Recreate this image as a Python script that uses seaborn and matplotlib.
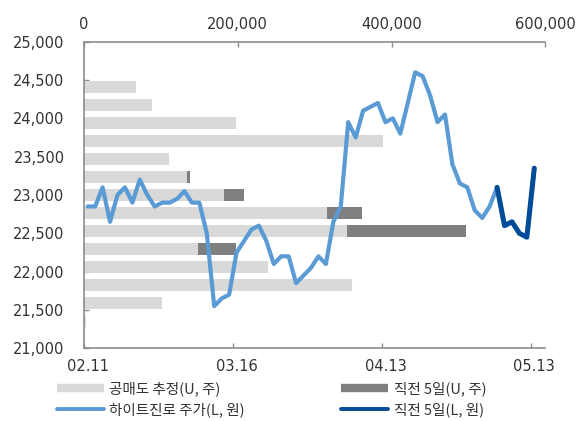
import numpy as np
import pandas as pd
import seaborn as sns
import matplotlib.pyplot as plt
from matplotlib.lines import Line2D
from matplotlib.ticker import FuncFormatter

# daily close (KRW), 61 trading days, last 6 points = "직전 5일"
price = [22850, 22850, 23100, 22650, 23000, 23100, 22900, 23200, 23000, 22850,
         22900, 22900, 22950, 23050, 22900, 22900, 22500, 21550, 21650, 21700,
         22250, 22400, 22550, 22600, 22400, 22100, 22200, 22200, 21850, 21950,
         22050, 22200, 22100, 22650, 22850, 23950, 23750, 24100, 24150, 24200,
         23950, 24000, 23800, 24200, 24600, 24550, 24300, 23950, 24050, 23400,
         23150, 23100, 22800, 22700, 22850, 23100, 22600, 22650, 22500, 22450,
         23350]
recent_start = 55
date_ticks = [0, 20, 40, 60]
date_labels = ['02.11', '03.16', '04.13', '05.13']

# short-selling volume by price bin (17 bins from 21,000 to 25,000, bottom -> top)
short_est = [0, 2900, 100800, 348300, 239600, 147800, 342300, 316600, 181700,
             133400, 110300, 388800, 197800, 88100, 67200, 0, 0]
recent_5d = [0, 0, 0, 0, 0, 50000, 154800, 44400, 26500,
             4700, 0, 0, 0, 0, 0, 0, 0]

light_grey = '#D9D9D9'
dark_grey = '#7F7F7F'
light_blue = '#5B9BD5'
dark_blue = '#004C99'
axis_grey = '#8C8C8C'
text_col = '#333333'

sns.set_style('ticks')
plt.rcParams['font.family'] = ['DejaVu Sans', 'Noto Sans CJK KR']

bin_w = 4000 / len(short_est)
bins = pd.DataFrame({
  'price_bin': 21000 + (np.arange(len(short_est)) + 0.5) * bin_w,
  'short': short_est,
  'total': np.array(short_est) + np.array(recent_5d),
})
line = pd.DataFrame({'day': np.arange(len(price)), 'price': price})

fig = plt.figure(figsize=(5.84, 4.21), dpi=100)
ax = fig.add_axes([0.1438, 0.1727, 0.7902, 0.7283])

# stacked bars: total in dark grey, estimate on top in light grey
sns.barplot(data=bins, x='total', y='price_bin', orient='h', native_scale=True,
            color=dark_grey, saturation=1, width=0.65, errorbar=None,
            linewidth=0, ax=ax)
sns.barplot(data=bins, x='short', y='price_bin', orient='h', native_scale=True,
            color=light_grey, saturation=1, width=0.65, errorbar=None,
            linewidth=0, ax=ax)

ax2 = ax.twiny()
sns.lineplot(data=line, x='day', y='price', color=light_blue, linewidth=3,
             solid_joinstyle='round', solid_capstyle='round', ax=ax2)
sns.lineplot(data=line.iloc[recent_start:], x='day', y='price', color=dark_blue,
             linewidth=3.6, solid_joinstyle='round', solid_capstyle='round', ax=ax2)

ax.set_xlim(0, 600000)
ax2.set_xlim(-0.5, 61.5)
ax.set_ylim(21000, 25000)

# top axis: volume
ax.xaxis.tick_top()
ax.set_xticks([0, 200000, 400000, 600000])
ax.xaxis.set_major_formatter(FuncFormatter(lambda v, p: f'{v:,.0f}'))
ax.set_yticks(np.arange(21000, 25001, 500))
ax.yaxis.set_major_formatter(FuncFormatter(lambda v, p: f'{v:,.0f}'))
ax.tick_params(axis='x', which='major', direction='in', length=3.5, width=1,
               color=axis_grey, pad=7, labelsize=10.5, labelcolor=text_col,
               top=True, bottom=False)
ax.tick_params(axis='y', direction='in', length=3.5, width=1, color=axis_grey,
               pad=14, labelsize=10.5, labelcolor=text_col)
ax.set_xlabel('')
ax.set_ylabel('')

# bottom axis: dates
ax2.xaxis.tick_bottom()
ax2.set_xticks(date_ticks)
ax2.set_xticklabels(date_labels)
ax2.set_xticks([t - 0.5 for t in date_ticks], minor=True)
ax2.tick_params(axis='x', which='major', length=0, pad=8, labelsize=10.5,
                labelcolor=text_col, top=False)
ax2.tick_params(axis='x', which='minor', direction='in', length=3.5, width=1,
                color=axis_grey, top=False, bottom=True)
ax2.set_xlabel('')
ax2.set_ylabel('')

for s in ['right', 'bottom']:
  ax.spines[s].set_visible(False)
for s in ['left', 'top']:
  ax.spines[s].set_color(axis_grey)
  ax.spines[s].set_linewidth(1.2)
for s in ['left', 'right', 'top']:
  ax2.spines[s].set_visible(False)
ax2.spines['bottom'].set_color(axis_grey)
ax2.spines['bottom'].set_linewidth(1.2)

handles = [
  Line2D([], [], color=light_grey, linewidth=6, solid_capstyle='butt'),
  Line2D([], [], color=light_blue, linewidth=2.8, solid_capstyle='round'),
  Line2D([], [], color=dark_grey, linewidth=6, solid_capstyle='butt'),
  Line2D([], [], color=dark_blue, linewidth=2.8, solid_capstyle='round'),
]
labels = ['공매도 추정(U, 주)', '하이트진로 주가(L, 원)', '직전 5일(U, 주)', '직전 5일(L, 원)']
leg = fig.legend(handles, labels, ncol=2, loc='upper left',
                 bbox_to_anchor=(0.085, 0.111), frameon=False, borderpad=0,
                 handlelength=3.2, handletextpad=0.4, labelspacing=0.4,
                 columnspacing=6.6,
                 prop={'family': ['Noto Sans CJK KR', 'DejaVu Sans'], 'size': 10.5})
for t in leg.get_texts():
  t.set_color(text_col)

fig.savefig('out.png', dpi=100)
